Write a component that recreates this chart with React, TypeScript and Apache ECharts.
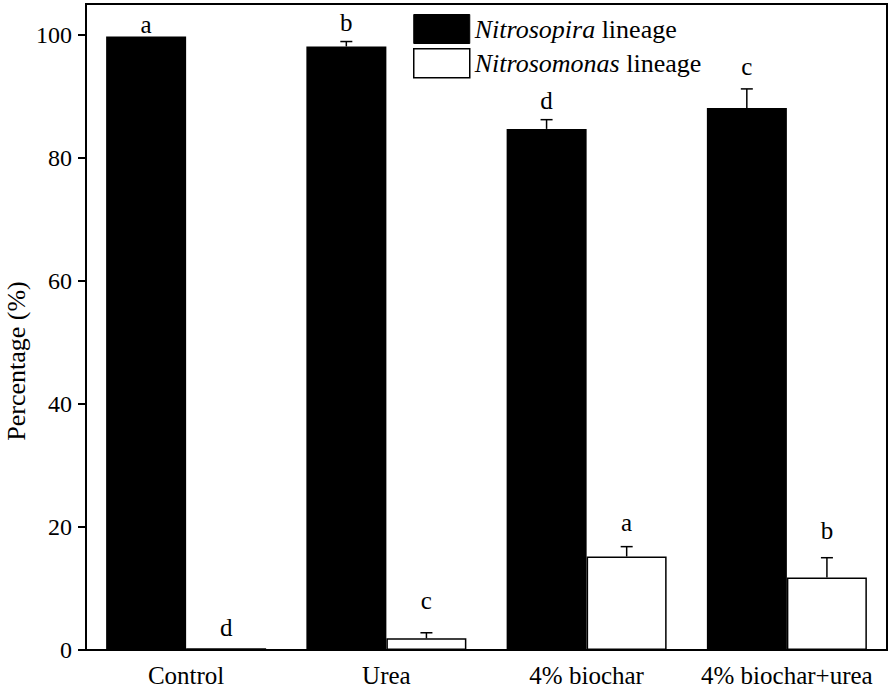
import React, { useEffect, useRef } from "react";
import * as echarts from "echarts";

const categories = ["Control", "Urea", "4% biochar", "4% biochar+urea"];
const seriesNames = ["Nitrosopira lineage", "Nitrosomonas lineage"];
const nitrosospiraValues = [99.7, 98.1, 84.7, 88.1];
const nitrosospiraErrors = [0, 0.8, 1.5, 3.1];
const nitrosospiraLetters = ["a", "b", "d", "c"];
const nitrosospiraLetterPos = [100.3, 100.6, 88.0, 93.4];
const nitrosomonasValues = [0.3, 1.9, 15.2, 11.8];
const nitrosomonasErrors = [0, 0.9, 1.6, 3.2];
const nitrosomonasLetters = ["d", "c", "a", "b"];
const nitrosomonasLetterPos = [2.3, 6.6, 19.3, 18.0];
const yTicks = [0, 20, 40, 60, 80, 100];

const FONT = "'Liberation Serif', serif";

function makeErrRender(offsetFrac: number, letters: string[]) {
  return (params: any, api: any) => {
    const i = api.value(0);
    const v = api.value(1);
    const e = api.value(2);
    const lp = api.value(3);
    const band = api.size([1, 0])[0];
    const cx = api.coord([i, 0])[0] + offsetFrac * band;
    const yTop = api.coord([i, v])[1];
    const yErr = api.coord([i, v + e])[1];
    const yLetter = api.coord([i, lp])[1];
    const children: any[] = [];
    if (e > 0) {
      children.push({
        type: "line",
        shape: { x1: cx, y1: yTop, x2: cx, y2: yErr },
        style: { stroke: "#000", lineWidth: 1.5 },
      });
      children.push({
        type: "line",
        shape: { x1: cx - 6, y1: yErr, x2: cx + 6, y2: yErr },
        style: { stroke: "#000", lineWidth: 1.5 },
      });
    }
    children.push({
      type: "text",
      style: {
        text: letters[params.dataIndex],
        x: cx,
        y: yLetter - 8.5,
        align: "center",
        verticalAlign: "middle",
        fontSize: 25,
        fontFamily: FONT,
        fill: "#000",
      },
    });
    return { type: "group", children };
  };
}

export default function App() {
  const ref = useRef<HTMLDivElement>(null);
  useEffect(() => {
    if (!ref.current) return;
    const chart = echarts.init(ref.current, null, { renderer: "svg" });
    const option: any = {
      animation: false,
      backgroundColor: "#fff",
      textStyle: { fontFamily: FONT },
      grid: {
        left: 86,
        right: 4,
        top: 4,
        bottom: 37,
        show: true,
        borderColor: "#000",
        borderWidth: 2,
        backgroundColor: "transparent",
      },
      legend: {
        orient: "vertical",
        left: 413,
        top: 14,
        padding: 0,
        itemWidth: 56,
        itemHeight: 29,
        itemGap: 4,
        icon: "rect",
        data: [
          { name: seriesNames[0], itemStyle: { color: "#000", borderColor: "#000", borderWidth: 1 } },
          { name: seriesNames[1], itemStyle: { color: "#fff", borderColor: "#000", borderWidth: 1.5 } },
        ],
        formatter: (name: string) => {
          const parts = name.split(" ");
          return "{i|" + parts[0] + "} " + parts.slice(1).join(" ");
        },
        textStyle: {
          fontFamily: FONT,
          fontSize: 26,
          color: "#000",
          rich: {
            i: { fontFamily: FONT, fontSize: 26, fontStyle: "italic", color: "#000" },
          },
        },
      },
      xAxis: {
        type: "category",
        data: categories,
        boundaryGap: true,
        axisLine: { lineStyle: { color: "#000", width: 2 } },
        axisTick: { alignWithLabel: true, length: 7, lineStyle: { color: "#000", width: 2 } },
        axisLabel: { fontFamily: FONT, fontSize: 25, color: "#000", margin: 13, interval: 0 },
        splitLine: { show: false },
      },
      yAxis: {
        type: "value",
        min: 0,
        max: 105,
        interval: 20,
        axisLine: { show: true, lineStyle: { color: "#000", width: 2 } },
        axisTick: { show: true, length: 8, customValues: yTicks, lineStyle: { color: "#000", width: 2 } },
        axisLabel: { fontFamily: FONT, fontSize: 24, color: "#000", margin: 14, customValues: yTicks },
        splitLine: { show: false },
      },
      graphic: [
        {
          type: "text",
          x: 16,
          y: 361,
          rotation: Math.PI / 2,
          style: {
            text: "Percentage (%)",
            fontFamily: FONT,
            fontSize: 26,
            fill: "#000",
            align: "center",
            verticalAlign: "middle",
          },
        },
      ],
      series: [
        {
          name: seriesNames[0],
          type: "bar",
          data: nitrosospiraValues,
          barWidth: 80,
          barGap: "0%",
          itemStyle: { color: "#000", borderColor: "#000", borderWidth: 0 },
        },
        {
          name: seriesNames[1],
          type: "bar",
          data: nitrosomonasValues,
          barWidth: 80,
          barGap: "0%",
          itemStyle: { color: "#fff", borderColor: "#000", borderWidth: 1.5 },
        },
        {
          name: "err1",
          type: "custom",
          renderItem: makeErrRender(-0.2, nitrosospiraLetters),
          encode: { x: 0, y: 1 },
          data: categories.map((_, i) => [i, nitrosospiraValues[i], nitrosospiraErrors[i], nitrosospiraLetterPos[i]]),
          z: 5,
        },
        {
          name: "err2",
          type: "custom",
          renderItem: makeErrRender(0.2, nitrosomonasLetters),
          encode: { x: 0, y: 1 },
          data: categories.map((_, i) => [i, nitrosomonasValues[i], nitrosomonasErrors[i], nitrosomonasLetterPos[i]]),
          z: 5,
        },
      ],
    };
    chart.setOption(option);
    return () => chart.dispose();
  }, []);
  return (
    <div
      ref={ref}
      style={{ position: "fixed", left: 0, top: 0, width: 891, height: 688, background: "#fff" }}
    />
  );
}
